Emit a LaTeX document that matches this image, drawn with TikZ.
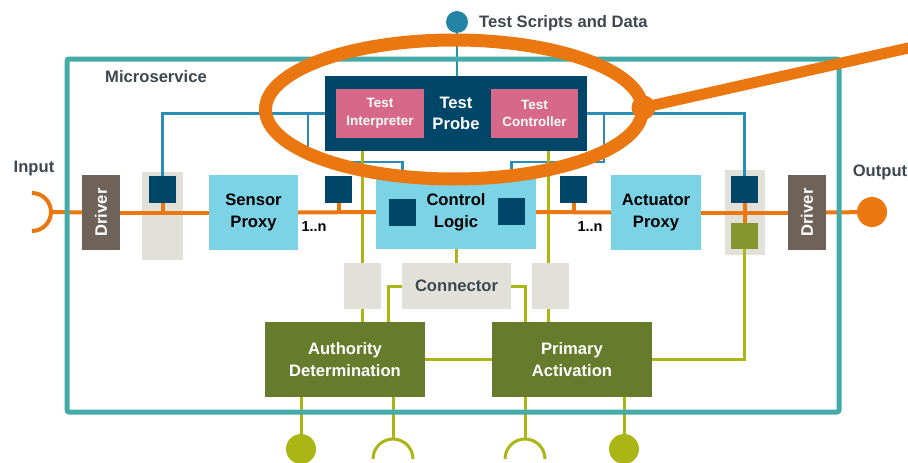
\documentclass[tikz,border=0pt]{standalone}
\usepackage{fontspec}
\setmainfont{Liberation Sans}
\definecolor{frameteal}{HTML}{45ABA9}
\definecolor{navy}{HTML}{004669}
\definecolor{wireblue}{HTML}{2A8DB5}
\definecolor{dotblue}{HTML}{2385A6}
\definecolor{pinkbox}{HTML}{D6698A}
\definecolor{skyblue}{HTML}{7DD3E6}
\definecolor{drivergray}{HTML}{6F6259}
\definecolor{palegray}{HTML}{E1E1D9}
\definecolor{olive}{HTML}{667B2C}
\definecolor{lime}{HTML}{ABB515}
\definecolor{olivesq}{HTML}{86962E}
\definecolor{signal}{HTML}{EA7710}
\definecolor{inkgray}{HTML}{3C474F}
\pgfdeclarelayer{paper}
\pgfdeclarelayer{pads}
\pgfdeclarelayer{wires}
\pgfdeclarelayer{frame}
\pgfdeclarelayer{top}
\pgfsetlayers{paper,pads,wires,frame,main,top}
\begin{document}
\begin{tikzpicture}[x=1pt,y=-1pt,
  blk/.style={rectangle, inner sep=0pt, draw=none, align=center},
  sz/.style 2 args={minimum width=#1pt, minimum height=#2pt},
  big/.style={font=\bfseries\fontsize{16.6}{21.5}\selectfont},
  small/.style={font=\bfseries\fontsize{13.4}{17.5}\selectfont},
  mult/.style={font=\bfseries\fontsize{14.5}{17}\selectfont, inner sep=0pt},
  wire/.style={draw=wireblue, line width=2.5pt},
  feed/.style={draw=lime, line width=3pt},
  signalline/.style={draw=signal, line width=4pt},
  navysq/.style={blk, fill=navy, sz={27}{27}},
  pad/.style={blk, fill=palegray},
]
\useasboundingbox (0,0) rectangle (908,463);
\begin{pgfonlayer}{paper}
  \fill[white] (0,0) rectangle (908,463);
\end{pgfonlayer}

% grey mounting pads behind the ports
\begin{pgfonlayer}{pads}
  \node[pad, sz={41}{88}] (padL) at (162.5,216) {};
  \node[pad, sz={40}{85}] (padR) at (745,212.5) {};
\end{pgfonlayer}

% test probe
\node[blk, fill=navy, sz={262}{75}, big, text=white] (probe) at (456,113.5) {Test\\Probe};
\node[blk, fill=pinkbox, sz={88}{49}, small, text=white] (interp) at (380,113.5) {Test\\Interpreter};
\node[blk, fill=pinkbox, sz={87}{49}, small, text=white] (tctrl) at (534.5,113.5) {Test\\Controller};

% main signal chain
\node[blk, fill=drivergray, sz={38}{75}] (drvL) at (101,212.5) {};
\node[big, text=white, rotate=90, inner sep=0pt] (drvLtxt) at (drvL) {Driver};
\node[blk, fill=skyblue, sz={89}{75}, big] (sensor) at (253.5,212.5) {Sensor\\Proxy};
\node[blk, fill=skyblue, sz={160}{74}, big] (logic) at (456,212) {Control\\Logic};
\node[blk, fill=skyblue, sz={90}{75}, big] (actuator) at (656,212.5) {Actuator\\Proxy};
\node[blk, fill=drivergray, sz={38}{75}] (drvR) at (807,212.5) {};
\node[big, text=white, rotate=90, inner sep=0pt] (drvRtxt) at (drvR) {Driver};

% probe ports
\node[navysq] (sqL) at (162.5,189.5) {};
\node[navysq] (sqN1) at (338.5,189.5) {};
\node[navysq] (sqC1) at (402.5,212.5) {};
\node[navysq] (sqC2) at (511.5,211.5) {};
\node[navysq] (sqN2) at (573.5,189.5) {};
\node[navysq] (sqR) at (744.5,189.5) {};
\node[blk, fill=olivesq, sz={27}{26}] (gsqR) at (744.5,236) {};

% lower block
\node[pad, sz={37}{46}] (padA) at (362.5,286) {};
\node[pad, sz={109}{46}, big, text=inkgray] (conn) at (456.5,286) {Connector};
\node[pad, sz={37}{46}] (padB) at (550.5,286) {};
\node[blk, fill=olive, sz={160}{75}, big, text=white] (auth) at (345,359.5) {Authority\\Determination};
\node[blk, fill=olive, sz={160}{75}, big, text=white] (prim) at (572,359.5) {Primary\\Activation};

% labels
\node[big, text=inkgray, inner sep=0pt] (msvc) at (156,77) {Microservice};
\node[big, text=inkgray, anchor=west, inner sep=0pt] (scripts) at (479,23) {Test Scripts and Data};
\node[big, text=inkgray, inner sep=0pt] (inlbl) at (34,169) {Input};
\node[big, text=inkgray, inner sep=0pt] (outlbl) at (880,172) {Output};
\node[mult] (nL) at (314,227) {1..n};
\node[mult] (nR) at (590,227) {1..n};

% end points
\node[circle, fill=dotblue, minimum size=22pt, inner sep=0pt] (src) at (457,22) {};
\node[circle, fill=signal, minimum size=30pt, inner sep=0pt] (outdot) at (872,212) {};
\node[circle, fill=lime, minimum size=30pt, inner sep=0pt] (dA) at (301,449) {};
\node[circle, fill=lime, minimum size=30pt, inner sep=0pt] (dB) at (624,449) {};

\coordinate (inTop) at (32,193);
\coordinate (inTip) at (51,212);
\coordinate (hA) at (393,439);
\coordinate (hB) at (525,439);
\coordinate (hAl) at (373,459);
\coordinate (hBl) at (505,459);

\begin{pgfonlayer}{wires}
  % test probe wiring
  \draw[wire] (src.south) -- (src.south |- probe.north);
  \draw[wire] (probe.west) -| (sqL.north);
  \coordinate (tapL) at (308,113.5);
  \coordinate (tapLend) at (308,152);
  \draw[wire] (tapL) -- (tapLend);
  \coordinate (jL) at (335,162);
  \draw[wire] (jL) -| (sqC1.north);
  \draw[wire] (probe.east) -| (sqR.north);
  \coordinate (tapR) at (604,113.5);
  \draw[wire] (tapR) |- (sqC2.north |- jL) -- (sqC2.north);

  % supply wiring
  \coordinate (gA) at (362,151);
  \coordinate (gB) at (548,151);
  \draw[feed] (gA) -- (gA |- auth.north);
  \draw[feed] (gB) -- (gB |- prim.north);
  \draw[feed] (logic.south) -- (logic.south |- conn.north);
  \coordinate (kA) at (388,322);
  \coordinate (kB) at (525,322);
  \draw[feed] (conn.west) -| (kA);
  \draw[feed] (conn.east) -| (kB);
  \draw[feed] (auth.east) -- (prim.west);
  \draw[feed] (gsqR.south) |- (prim.east);
  \draw[feed] (dA |- auth.south) -- (dA.center);
  \draw[feed] (hA |- auth.south) -- (hA);
  \draw[feed] (hAl) arc[start angle=180, end angle=0, radius=20pt];
  \draw[feed] (hB |- prim.south) -- (hB);
  \draw[feed] (hBl) arc[start angle=180, end angle=0, radius=20pt];
  \draw[feed] (dB |- prim.south) -- (dB.center);

  % signal path
  \draw[signalline] (inTop) arc[start angle=90, end angle=-90, radius=19pt];
  \draw[signalline] (inTip) -- (drvL.west);
  \draw[signalline] (drvL.east) -- (sensor.west);
  \draw[signalline] (sensor.east) -- (logic.west);
  \draw[signalline] (logic.east) -- (actuator.west);
  \draw[signalline] (actuator.east) -- (drvR.west);
  \draw[signalline] (drvR.east) -- (outdot.center);
  \draw[signalline] (sqL.south) -- (sqL.south |- drvL.east);
  \draw[signalline] (sqN1.south) -- (sqN1.south |- drvL.east);
  \draw[signalline] (sqN2.south) -- (sqN2.south |- drvL.east);
  \draw[signalline] (sqR.south) -- (gsqR.north);
\end{pgfonlayer}

% microservice boundary
\begin{pgfonlayer}{frame}
  \draw[frameteal, line width=5pt, rounded corners=2pt] (67,59) rectangle (839,412);
\end{pgfonlayer}

% highlight ring and pointer
\begin{pgfonlayer}{top}
  \coordinate (ring) at (454,109.5);
  \draw[signal, line width=13pt] (ring) ellipse[x radius=188.5pt, y radius=69.5pt];
  \node[circle, fill=signal, minimum size=24pt, inner sep=0pt] (hub) at (643.5,107.5) {};
  \coordinate (ptr) at (915,46.5);
  \draw[signal, line width=11pt] (hub.center) -- (ptr);
\end{pgfonlayer}
\end{tikzpicture}
\end{document}
